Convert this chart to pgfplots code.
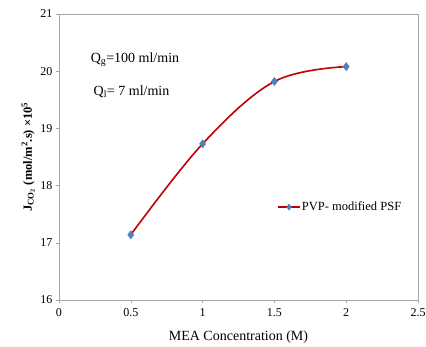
\documentclass[border=0pt]{standalone}
\usepackage{pgfplots}
\pgfplotsset{compat=1.18}
\usepackage{fontspec}
\setmainfont{Liberation Serif}
\definecolor{mk}{HTML}{4F81BD}
\definecolor{ln}{HTML}{C00000}
\begin{document}
\begin{tikzpicture}[x=1pt,y=1pt]
\path[use as bounding box] (-59,-47) rectangle (367,300);
\begin{axis}[
  at={(0,0)}, anchor=south west,
  scale only axis, width=359pt, height=286pt,
  xmin=0, xmax=2.5, ymin=16, ymax=21,
  xtick={0,0.5,...,2.5}, ytick={16,...,21},
  xtick pos=bottom, ytick pos=left,
  axis line style={draw=gray!70},
  tick style={draw=gray!70},
  tick align=outside, major tick length=3pt,
  ticklabel style={font=\fontsize{12}{14}\selectfont},
  /pgf/number format/assume math mode=true,
  xticklabel style={/pgf/number format/.cd, fixed},
  xticklabel shift=2pt,
  xlabel={MEA Concentration (M)},
  xlabel style={font=\fontsize{14}{16}\selectfont, yshift=-7pt},
  ylabel={\textbf{J\textsubscript{CO\textsubscript{2}} (mol/m\textsuperscript{2}.s) ×10\textsuperscript{5}}},
  ylabel style={font=\fontsize{12.5}{14}\selectfont, yshift=-1pt},
  legend style={draw=none, fill=none, at={(0.607,0.325)}, anchor=west, font=\fontsize{12.5}{14}\selectfont, inner sep=0pt,
    nodes={inner sep=1pt}},
  legend cell align=left,
  legend image code/.code={
    \draw[ln, line width=1.6pt] (0cm,0cm) -- (0.78cm,0cm);
    \draw[mk, fill=mk] plot[mark=diamond*, mark size=2.2pt] coordinates {(0.39cm,0cm)};
  },
  clip=false,
]
\addplot[ln, line width=1.6pt, smooth, tension=0.6, mark=diamond*, mark size=3.2pt,
  mark options={draw=mk, fill=mk}]
  coordinates {(0.5,17.14) (1,18.73) (1.5,19.82) (2,20.08)};
\addlegendentry{PVP- modified PSF}
\node[anchor=west, font=\fontsize{14}{16}\selectfont, inner sep=0pt] at (axis cs:0.22,20.2) {Q\textsubscript{g}=100 ml/min};
\node[anchor=west, font=\fontsize{14}{16}\selectfont, inner sep=0pt] at (axis cs:0.24,19.64) {Q\textsubscript{l}= 7 ml/min};
\end{axis}
\end{tikzpicture}
\end{document}
